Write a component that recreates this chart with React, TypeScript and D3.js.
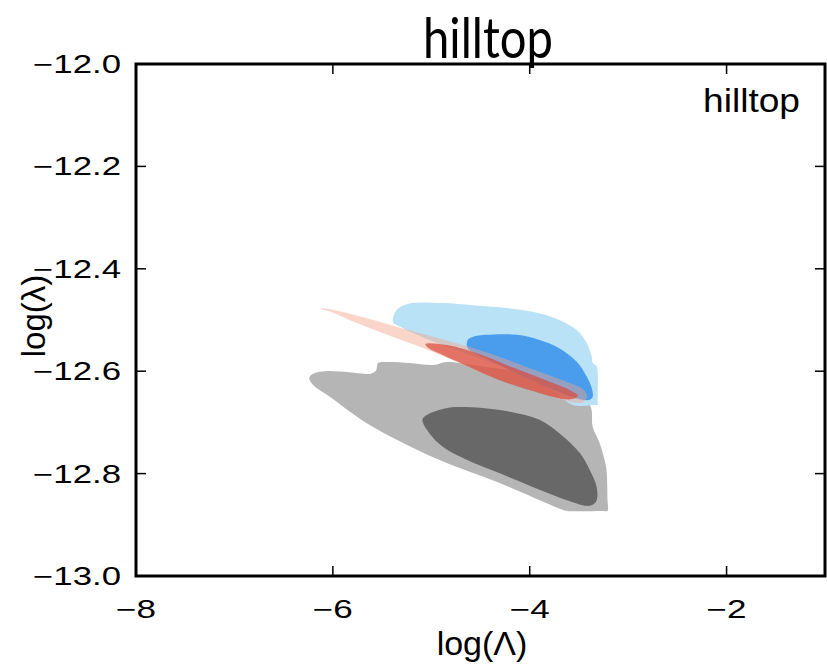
import React from 'react';
import * as d3 from 'd3';

type Pt = [number, number];

// contour outlines, [log(Λ), log(λ)]
const outerGrey: Pt[] = [
  [-6.24, -12.613], [-6.2, -12.605], [-6.08, -12.6], [-5.83, -12.602], [-5.62, -12.605],
  [-5.56, -12.598], [-5.54, -12.584], [-5.45, -12.582], [-5.22, -12.584], [-4.98, -12.588],
  [-4.84, -12.582], [-4.51, -12.59], [-4.1, -12.602], [-3.7, -12.627], [-3.39, -12.666],
  [-3.36, -12.709], [-3.29, -12.74], [-3.24, -12.773], [-3.22, -12.793], [-3.21, -12.85],
  [-3.21, -12.873], [-3.25, -12.873], [-3.62, -12.873], [-3.66, -12.871], [-4.31, -12.818],
  [-4.98, -12.768], [-5.66, -12.701], [-6.03, -12.65], [-6.2, -12.627],
];
const innerGrey: Pt[] = [
  [-5.09, -12.695], [-5.05, -12.686], [-4.84, -12.672], [-4.74, -12.67], [-4.48, -12.672],
  [-4.13, -12.682], [-3.9, -12.695], [-3.7, -12.721], [-3.49, -12.76], [-3.39, -12.793],
  [-3.32, -12.826], [-3.32, -12.852], [-3.36, -12.861], [-3.42, -12.863], [-3.62, -12.852],
  [-3.97, -12.826], [-4.31, -12.799], [-4.64, -12.773], [-4.88, -12.748], [-5.02, -12.721],
];
const outerBlue: Pt[] = [
  [-5.39, -12.504], [-5.37, -12.486], [-5.32, -12.475], [-5.19, -12.467], [-4.88, -12.467],
  [-4.58, -12.471], [-4.31, -12.475], [-3.97, -12.484], [-3.7, -12.5], [-3.52, -12.52],
  [-3.42, -12.545], [-3.37, -12.572], [-3.36, -12.584], [-3.32, -12.59], [-3.31, -12.6],
  [-3.31, -12.66], [-3.31, -12.666], [-3.34, -12.666], [-3.56, -12.666], [-3.8, -12.633],
  [-4.2, -12.598], [-4.61, -12.568], [-5.02, -12.539], [-5.35, -12.51],
];
const innerBlue: Pt[] = [
  [-4.63, -12.539], [-4.58, -12.533], [-4.44, -12.529], [-4.13, -12.529], [-3.9, -12.539],
  [-3.7, -12.555], [-3.52, -12.582], [-3.42, -12.611], [-3.37, -12.633], [-3.36, -12.65],
  [-3.39, -12.656], [-3.46, -12.656], [-3.7, -12.641], [-4.1, -12.607], [-4.41, -12.578],
  [-4.63, -12.555],
];
const outerRed: Pt[] = [
  [-6.11, -12.477], [-6.0, -12.48], [-5.66, -12.496], [-5.32, -12.515], [-4.99, -12.532],
  [-4.64, -12.551], [-4.31, -12.572], [-3.97, -12.596], [-3.62, -12.621], [-3.46, -12.635],
  [-3.42, -12.648], [-3.45, -12.66], [-3.52, -12.662], [-3.8, -12.648], [-4.13, -12.626],
  [-4.48, -12.604], [-4.81, -12.576], [-5.15, -12.55], [-5.49, -12.526], [-5.83, -12.5],
  [-6.05, -12.482], [-6.13, -12.479],
];
const innerRed: Pt[] = [
  [-5.06, -12.547], [-4.84, -12.549], [-4.51, -12.567], [-4.17, -12.593], [-3.83, -12.618],
  [-3.59, -12.637], [-3.51, -12.648], [-3.58, -12.655], [-4.0, -12.637], [-4.34, -12.615],
  [-4.68, -12.586], [-4.91, -12.566], [-5.04, -12.553],
];

const xTicks = [-8, -6, -4, -2];
const yTicks = [-12.0, -12.2, -12.4, -12.6, -12.8, -13.0];

const width = 827;
const height = 666;
const margin = { top: 64, right: 2, bottom: 90, left: 136 };

const App = () => {
  const x = d3.scaleLinear().domain([-8, -1]).range([margin.left, width - margin.right]);
  const y = d3.scaleLinear().domain([-13, -12]).range([height - margin.bottom, margin.top]);

  const area = d3
    .line<Pt>()
    .x((d) => x(d[0]))
    .y((d) => y(d[1]))
    .curve(d3.curveCatmullRomClosed.alpha(0.5));

  const layers: { pts: Pt[]; fill: string; opacity: number }[] = [
    { pts: outerGrey, fill: '#b5b5b5', opacity: 1 },
    { pts: innerGrey, fill: '#686868', opacity: 1 },
    { pts: outerBlue, fill: '#b9e2f7', opacity: 1 },
    { pts: innerBlue, fill: '#4a9ced', opacity: 1 },
    { pts: outerRed, fill: '#f4a58a', opacity: 0.45 },
    { pts: innerRed, fill: '#d9483b', opacity: 0.7 },
  ];

  const x0 = x(-8);
  const x1 = x(-1);
  const y0 = y(-12);
  const y1 = y(-13);
  const tickLen = 10;

  return (
    <svg
      width={width}
      height={height}
      style={{ position: 'absolute', left: 0, top: 0, background: '#fff' }}
      fontFamily="'Liberation Sans', Arial, sans-serif"
    >
      {layers.map((l, i) => (
        <path key={i} d={area(l.pts) || ''} fill={l.fill} fillOpacity={l.opacity} stroke="none" />
      ))}

      {xTicks.map((t) => (
        <g key={'x' + t}>
          <line x1={x(t)} x2={x(t)} y1={y1} y2={y1 - tickLen} stroke="#000" strokeWidth={1.5} />
          <line x1={x(t)} x2={x(t)} y1={y0} y2={y0 + tickLen} stroke="#000" strokeWidth={1.5} />
          <text
            x={x(t) - 20}
            y={618}
            fontSize={25}
            textLength={40}
            lengthAdjust="spacingAndGlyphs"
          >
            {'\u2212' + Math.abs(t)}
          </text>
        </g>
      ))}
      {yTicks.map((t) => (
        <g key={'y' + t}>
          <line x1={x0} x2={x0 + tickLen} y1={y(t)} y2={y(t)} stroke="#000" strokeWidth={1.5} />
          <line x1={x1} x2={x1 - tickLen} y1={y(t)} y2={y(t)} stroke="#000" strokeWidth={1.5} />
          <text
            x={33}
            y={y(t) + 9}
            fontSize={25}
            textLength={88}
            lengthAdjust="spacingAndGlyphs"
          >
            {'\u2212' + Math.abs(t).toFixed(1)}
          </text>
        </g>
      ))}

      <rect x={x0} y={y0} width={x1 - x0} height={y1 - y0} fill="none" stroke="#000" strokeWidth={3} />

      <text
        x={423}
        y={58}
        fontSize={56}
        textLength={130}
        lengthAdjust="spacingAndGlyphs"
        fontFamily="Lato, 'Open Sans', sans-serif"
      >
        hilltop
      </text>
      <text x={703} y={112} fontSize={34} textLength={97} lengthAdjust="spacingAndGlyphs">
        hilltop
      </text>
      <text x={482} y={655} fontSize={34} textAnchor="middle">
        log(Λ)
      </text>
      <text transform={`translate(45,${(y0 + y1) / 2 - 4}) rotate(-90)`} fontSize={33} textAnchor="middle">
        log(λ)
      </text>
    </svg>
  );
};

export default App;
